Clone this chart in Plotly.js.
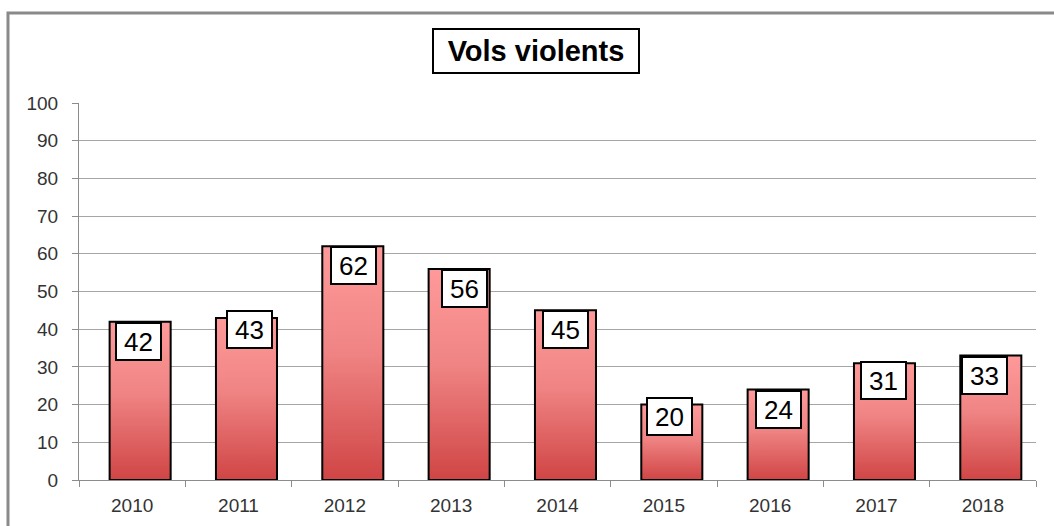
<!DOCTYPE html>
<html>
<head>
<meta charset="utf-8">
<script src="https://cdn.plot.ly/plotly-3.0.1.min.js"></script>
<style>html,body{margin:0;padding:0;background:#fff;}#chart{width:1054px;height:526px;}</style>
</head>
<body>
<div id="chart"></div>
<script>
// Data
const years = ["2010","2011","2012","2013","2014","2015","2016","2017","2018"];
const values = [42, 43, 62, 56, 45, 20, 24, 31, 33];
const yTicks = [0,10,20,30,40,50,60,70,80,90,100];
const chartTitle = "Vols violents";

// Label placement tweaks (pixels), style only
const labelDx = [-2, 3, 1, 5, 0, -2, 0, -1, -6];
const labelDy = [0, 8, 0, 0, 0, 8, 0, 2, 0];

const FONT = "Liberation Sans, Arial, sans-serif";
const barOffsetPx = 8;

const trace = {
  type: "bar",
  x: years,
  y: values,
  width: 0.574,
  offset: -0.212,
  marker: { color: "#e86a6a", line: { color: "#000", width: 2 } },
  hoverinfo: "skip"
};

const annotations = years.map((yr, i) => ({
  x: i, y: values[i], xref: "x", yref: "y",
  text: String(values[i]),
  showarrow: false,
  xanchor: "center", yanchor: "top",
  xshift: barOffsetPx + labelDx[i], yshift: labelDy[i],
  bgcolor: "#fff", bordercolor: "#000", borderwidth: 2, borderpad: 0,
  width: 43, height: 35,
  font: { family: FONT, size: 26, color: "#000" }
}));

annotations.push({
  x: 0.4775, y: 1.138, xref: "paper", yref: "paper",
  text: chartTitle, showarrow: false,
  xanchor: "center", yanchor: "middle",
  bgcolor: "#fff", bordercolor: "#000", borderwidth: 2, borderpad: 0,
  width: 204, height: 42,
  font: { family: FONT, size: 29, color: "#000", weight: "bold" }
});

const layout = {
  width: 1054, height: 526,
  margin: { l: 79, r: 18, t: 103, b: 46, pad: 0 },
  paper_bgcolor: "#fff", plot_bgcolor: "#fff",
  showlegend: false,
  xaxis: {
    type: "category",
    categoryarray: years, categoryorder: "array",
    range: [-0.5, years.length - 0.5],
    tickson: "boundaries",
    ticks: "outside", ticklen: 6, tickcolor: "#8c8c8c",
    showline: true, linecolor: "#8c8c8c", linewidth: 1,
    showgrid: false, zeroline: false,
    tickangle: 0,
    ticklabelstandoff: 8,
    tickfont: { family: FONT, size: 19, color: "#333" },
    fixedrange: true
  },
  yaxis: {
    range: [0, 100],
    tickvals: yTicks,
    ticks: "outside", ticklen: 6, tickcolor: "#8c8c8c",
    showline: true, linecolor: "#8c8c8c", linewidth: 1,
    showgrid: true, gridcolor: "#a6a6a6", gridwidth: 1,
    zeroline: false,
    ticklabelstandoff: 10,
    tickfont: { family: FONT, size: 19, color: "#333" },
    fixedrange: true
  },
  shapes: [{
    type: "rect", xref: "paper", yref: "paper",
    x0: -0.0742, x1: 1.3, y0: -0.5, y1: 1.2387,
    line: { color: "#8a8a8a", width: 3 },
    layer: "below"
  }],
  annotations: annotations
};

Plotly.newPlot("chart", [trace], layout, { staticPlot: true, displayModeBar: false }).then(function (gd) {
  const svg = gd.querySelector(".main-svg");
  const ns = "http://www.w3.org/2000/svg";
  let defs = svg.querySelector("defs");
  if (!defs) { defs = document.createElementNS(ns, "defs"); svg.insertBefore(defs, svg.firstChild); }
  const grad = document.createElementNS(ns, "linearGradient");
  grad.setAttribute("id", "barGrad");
  grad.setAttribute("x1", "0"); grad.setAttribute("y1", "0");
  grad.setAttribute("x2", "0"); grad.setAttribute("y2", "1");
  [["0%", "#ff9a9a"], ["45%", "#f08484"], ["100%", "#d04545"]].forEach(function (s) {
    const st = document.createElementNS(ns, "stop");
    st.setAttribute("offset", s[0]); st.setAttribute("stop-color", s[1]);
    grad.appendChild(st);
  });
  defs.appendChild(grad);
  gd.querySelectorAll(".barlayer .point path").forEach(function (p) {
    p.style.fill = "url(#barGrad)";
  });
});
</script>
</body>
</html>
